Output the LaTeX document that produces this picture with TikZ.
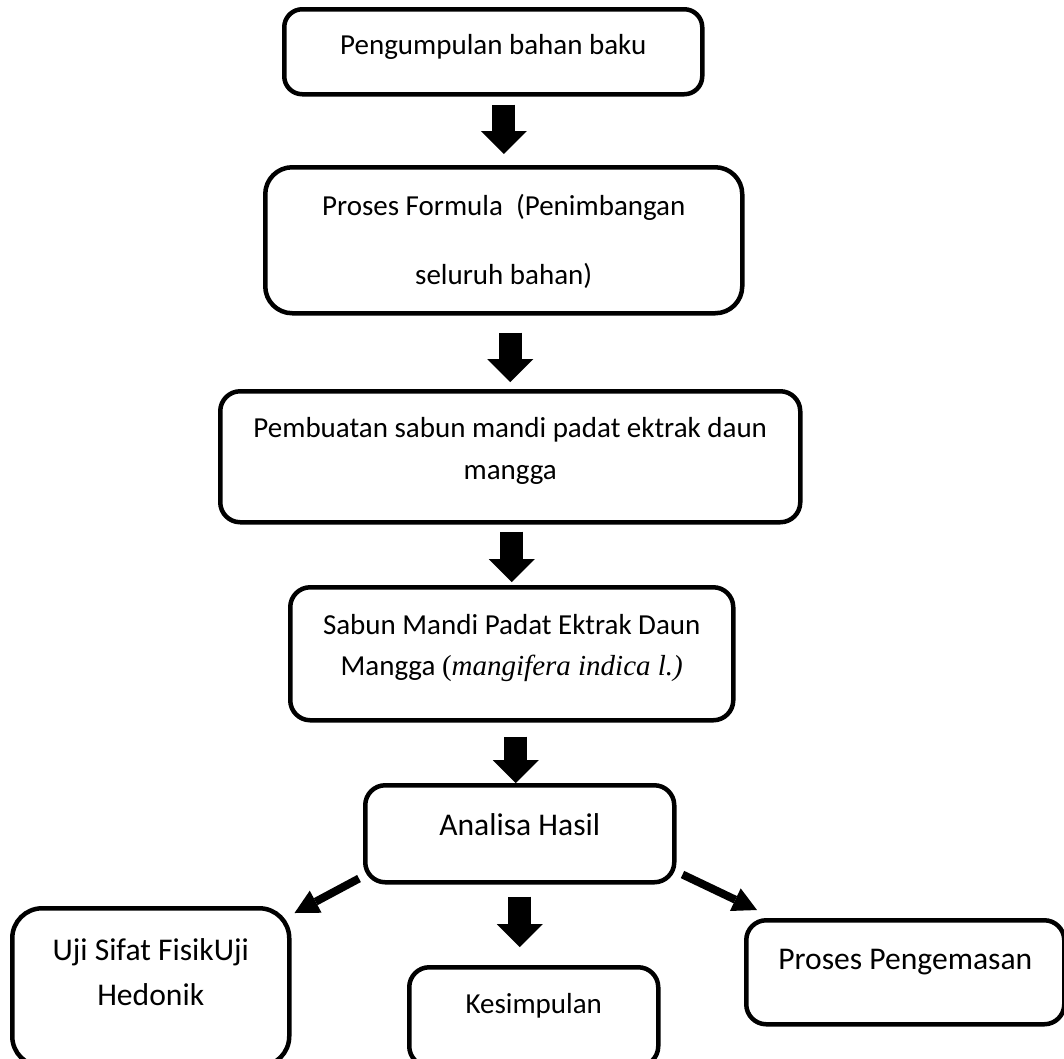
\documentclass[tikz,border=0pt]{standalone}
\usepackage{fontspec}
\setmainfont{Carlito}
\newfontfamily\timesfont{Liberation Serif}
\usetikzlibrary{arrows.meta,calc}

\begin{document}
\begin{tikzpicture}[
      x=1pt, y=-1pt,
      box/.style={draw, line width=4.5pt, rounded corners=20pt, inner sep=0pt,
                  anchor=north west, align=center,
                  font=\fontsize{29}{42}\selectfont},
      bigger/.style={font=\fontsize{31.6}{45}\selectfont},
      bigarrow/.style={line width=23pt,
                  -{Triangle[width=46pt,length=23pt,line width=0pt]}},
      slant/.style={line width=8pt,
                  -{Triangle[width=25pt,length=24pt,line width=0pt]}}
    ]
  \useasboundingbox (0,0) rectangle (1064,1058);

  % main chain
  \node[box, rounded corners=18pt, minimum width=418pt, minimum height=85pt,
        text height=45pt, text depth=40pt] (pengumpulan) at (282,7)
        {Pengumpulan bahan baku};
  \node[box, rounded corners=27pt, minimum width=477pt, minimum height=146pt,
        text height=117pt, text depth=29pt, font=\fontsize{29}{69}\selectfont]
        (formula) at (263,165)
        {Proses Formula~~(Penimbangan\\seluruh bahan)};
  \node[box, minimum width=580pt, minimum height=131pt,
        text height=88pt, text depth=43pt] (pembuatan) at (218,389)
        {Pembuatan sabun mandi padat ektrak daun\\mangga};
  \node[box, minimum width=443pt, minimum height=133pt,
        text height=88pt, text depth=45pt, font=\fontsize{29}{41}\selectfont]
        (sabun) at (288,585)
        {Sabun Mandi Padat Ektrak Daun\\Mangga {\timesfont(\textit{mangifera indica l.)}}};
  \node[box, bigger, minimum width=309pt, minimum height=97pt,
        text height=50pt, text depth=47pt] (analisa) at (363,783)
        {Analisa Hasil};

  % hasil analisa
  \node[box, bigger, rounded corners=30pt, minimum width=277pt, minimum height=158pt,
        text height=97pt, text depth=61pt] (uji) at (10,906)
        {Uji Sifat FisikUji\\Hedonik};
  \node[box, minimum width=249pt, minimum height=99pt,
        text height=46pt, text depth=53pt] (kesimpulan) at (407,965)
        {Kesimpulan};
  \node[box, bigger, minimum width=318pt, minimum height=104pt,
        text height=49pt, text depth=55pt] (proses) at (744,918)
        {Proses Pengemasan};

  \draw[bigarrow] ([yshift=-8pt]pengumpulan.south -| formula.north) -- ([yshift=11pt]formula.north);
  \draw[bigarrow] ([yshift=-17pt]formula.south -| pembuatan.north) -- ([yshift=7pt]pembuatan.north);
  \draw[bigarrow] ([yshift=-7pt]pembuatan.south -| sabun.north) -- ([yshift=3pt]sabun.north);
  \draw[bigarrow] ([xshift=-4pt,yshift=-14pt]sabun.south -| analisa.north) -- ([xshift=-4pt]analisa.north);
  \draw[bigarrow] ([yshift=-12pt]analisa.south) -- ([yshift=18pt]analisa.south |- kesimpulan.north);

  \draw[slant] ($(analisa.south west)+(-4,-6)$) -- ($(uji.north east)+(3,7)$);
  \draw[slant] ($(analisa.south east)+(6,-10)$) -- ($(proses.north west)+(13,-8)$);
\end{tikzpicture}
\end{document}
